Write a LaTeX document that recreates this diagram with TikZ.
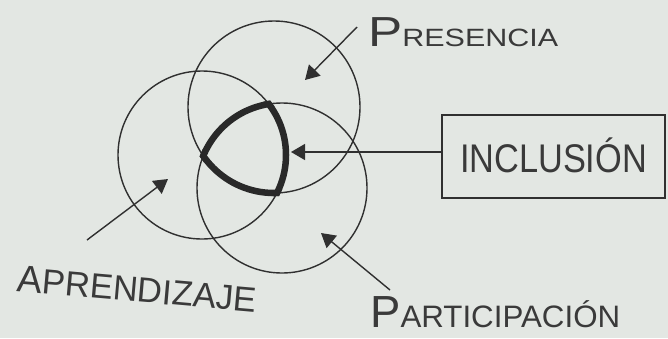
\documentclass[tikz,border=0pt]{standalone}
\usepackage{fontspec}
\usepackage{graphicx}
\setmainfont{Liberation Sans}
\usetikzlibrary{arrows.meta}
\definecolor{paper}{HTML}{E3E7E3}
\definecolor{ink}{HTML}{303030}
\definecolor{pencil}{HTML}{3A3A3A}
\tikzset{
  venn/.style={draw=ink, line width=1.4pt},
  core/.style={draw=ink!85!black, line width=6.5pt},
  pointer/.style={draw=ink, line width=1.4pt, -{Triangle[length=14pt,width=16pt]}},
  lbl/.style={text=pencil, inner sep=0pt},
  labelbox/.style={draw=ink, line width=1.7pt, minimum width=223pt, minimum height=83pt, inner sep=0pt, text=pencil}
}
\begin{document}
\begin{tikzpicture}[x=1pt,y=-1pt]
\fill[paper] (0,0) rectangle (668,338);
\useasboundingbox (0,0) rectangle (668,338);
% circle centres
\coordinate (cP) at (274,107);
\coordinate (cA) at (202,155);
\coordinate (cT) at (282,188);
% circles
\draw[venn] (cP) circle[radius=86pt];
\draw[venn] (cA) circle[radius=84pt];
\draw[venn] (cT) circle[radius=85pt];
% bold boundary of the triple intersection
\begin{scope}
  \clip (cA) circle[radius=87.25pt];
  \clip (cT) circle[radius=88.25pt];
  \draw[core] (cP) circle[radius=86pt];
\end{scope}
\begin{scope}
  \clip (cP) circle[radius=89.25pt];
  \clip (cT) circle[radius=88.25pt];
  \draw[core] (cA) circle[radius=84pt];
\end{scope}
\begin{scope}
  \clip (cP) circle[radius=89.25pt];
  \clip (cA) circle[radius=87.25pt];
  \draw[core] (cT) circle[radius=85pt];
\end{scope}
% labels
\node[lbl, anchor=base west] (pres) at (368,46)
  {\resizebox{190pt}{\height}{{\fontsize{42}{42}\selectfont P}{\fontsize{25}{25}\selectfont RESENCIA}}};
\node[labelbox] (inc) at (553.5,156.5)
  {\raisebox{0pt}[31pt][0pt]{\resizebox{187pt}{\height}{\fontsize{40}{40}\selectfont INCLUSIÓN}}};
\node[lbl, rotate=-5] (apr) at (137,289)
  {\resizebox{240pt}{\height}{{\fontsize{38}{38}\selectfont A}{\fontsize{35}{35}\selectfont PRENDIZAJE}}};
\node[lbl, anchor=base west] (part) at (370,327)
  {\resizebox{250pt}{\height}{{\fontsize{45}{45}\selectfont P}{\fontsize{31}{31}\selectfont ARTICIPACIÓN}}};
% arrow ends
\coordinate (presFrom) at (357,27);
\coordinate (presTip) at (305,80);
\coordinate (incTip) at (291,152);
\coordinate (aprFrom) at (87,240);
\coordinate (aprTip) at (168,179);
\coordinate (partFrom) at (390,290);
\coordinate (partTip) at (321,233);
% arrows
\draw[pointer] (presFrom) -- (presTip);
\draw[pointer] (inc.west |- incTip) -- (incTip);
\draw[pointer] (aprFrom) -- (aprTip);
\draw[pointer] (partFrom) -- (partTip);
\end{tikzpicture}
\end{document}
